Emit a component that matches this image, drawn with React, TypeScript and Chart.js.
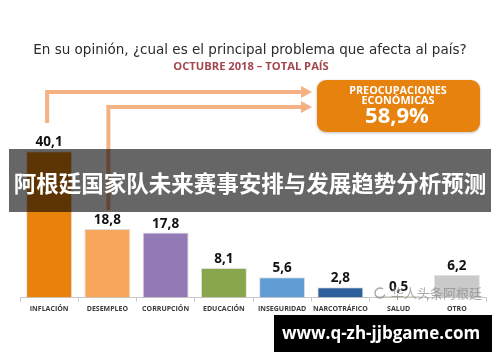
import React, { useEffect, useRef } from "react";
import { Chart, registerables } from "chart.js";

Chart.register(...registerables);

const categories = [
  "INFLACIÓN",
  "DESEMPLEO",
  "CORRUPCIÓN",
  "EDUCACIÓN",
  "INSEGURIDAD",
  "NARCOTRÁFICO",
  "SALUD",
  "OTRO",
];
const values = [40.1, 18.8, 17.8, 8.1, 5.6, 2.8, 0.5, 6.2];
const barColors = [
  "#E9820C",
  "#F7A65C",
  "#937AB5",
  "#8AA64C",
  "#5E9CD3",
  "#2D5F9C",
  "#A9C47F",
  "#CACACA",
];
const titleText = "En su opinión, ¿cual es el principal problema que afecta al país?";
const subtitleText = "OCTUBRE 2018 – TOTAL PAÍS";
const boxLines = ["PREOCUPACIONES", "ECONÓMICAS"];
const boxValue = "58,9%";
const bannerText = "阿根廷国家队未来赛事安排与发展趋势分析预测";
const siteText = "www.q-zh-jjbgame.com";
const watermarkText = "华人头条阿根廷";

const fmt = (v: number) => v.toFixed(1).replace(".", ",");

const decorPlugin = {
  id: "decor",
  afterDraw(chart: any) {
    const ctx = chart.ctx as CanvasRenderingContext2D;
    const meta = chart.getDatasetMeta(0);
    ctx.save();

    // Title
    ctx.fillStyle = "#2b2b2b";
    ctx.textAlign = "center";
    ctx.textBaseline = "middle";
    ctx.font = '13.5px "DejaVu Sans", sans-serif';
    ctx.fillText(titleText, 250, 50);
    ctx.fillStyle = "#A3464E";
    ctx.font = 'bold 11.2px "Open Sans", sans-serif';
    ctx.fillText(subtitleText, 251, 67);

    // Value labels
    ctx.fillStyle = "#111";
    ctx.font = 'bold 13.5px "Open Sans", sans-serif';
    ctx.textBaseline = "alphabetic";
    meta.data.forEach((bar: any, i: number) => {
      ctx.fillText(fmt(values[i]), bar.x, bar.y - 5);
    });

    // Arrows
    const b0 = meta.data[0];
    const b1 = meta.data[1];
    ctx.strokeStyle = "#F4B183";
    ctx.fillStyle = "#F4B183";
    ctx.lineWidth = 4;
    ctx.lineJoin = "miter";
    const arrowEnd = 303;
    const drawArrow = (x: number, y0: number, y1: number) => {
      ctx.beginPath();
      ctx.moveTo(x, y0);
      ctx.lineTo(x, y1);
      ctx.lineTo(arrowEnd, y1);
      ctx.stroke();
      ctx.beginPath();
      ctx.moveTo(arrowEnd - 2, y1 - 6);
      ctx.lineTo(arrowEnd + 9, y1);
      ctx.lineTo(arrowEnd - 2, y1 + 6);
      ctx.closePath();
      ctx.fill();
    };
    drawArrow(b0.x - 2, 123, 92);
    drawArrow(b1.x + 1, 210, 107);

    // Orange box
    ctx.shadowColor = "rgba(0,0,0,0.25)";
    ctx.shadowBlur = 3;
    ctx.shadowOffsetY = 1;
    ctx.fillStyle = "#E8820E";
    ctx.beginPath();
    (ctx as any).roundRect(317, 80, 163, 52, 9);
    ctx.fill();
    ctx.shadowColor = "transparent";
    ctx.fillStyle = "#ffffff";
    ctx.textAlign = "center";
    ctx.textBaseline = "middle";
    ctx.font = 'bold 10.8px "Open Sans", sans-serif';
    ctx.fillText(boxLines[0], 398, 91);
    ctx.fillText(boxLines[1], 398, 101);
    ctx.font = 'bold 22px "Open Sans", sans-serif';
    ctx.fillText(boxValue, 397, 117);

    // Watermark
    ctx.fillStyle = "rgba(140,140,140,0.75)";
    ctx.strokeStyle = "rgba(140,140,140,0.75)";
    ctx.lineWidth = 1.5;
    ctx.beginPath();
    ctx.arc(380, 293, 5, 0.3, Math.PI * 1.7);
    ctx.stroke();
    ctx.font = '13px "Noto Sans CJK SC", sans-serif';
    ctx.textAlign = "left";
    ctx.fillText(watermarkText, 391, 293);

    // Dark banner
    ctx.fillStyle = "rgba(0,0,0,0.6)";
    ctx.fillRect(9, 149, 482, 63);
    ctx.fillStyle = "#ffffff";
    ctx.textAlign = "center";
    ctx.font = 'bold 22.5px "Noto Sans CJK SC", sans-serif';
    ctx.fillText(bannerText, 250, 183);

    // Site box
    ctx.fillStyle = "#000000";
    ctx.fillRect(274, 315, 218, 37);
    ctx.fillStyle = "#ffffff";
    ctx.font = 'bold 17px "Open Sans", sans-serif';
    ctx.fillText(siteText, 381, 334);

    ctx.restore();
  },
};

export default function App() {
  const ref = useRef<HTMLCanvasElement | null>(null);
  useEffect(() => {
    if (!ref.current) return;
    const chart = new Chart(ref.current, {
      type: "bar",
      data: {
        labels: categories,
        datasets: [
          {
            data: values,
            backgroundColor: barColors,
            borderColor: "rgba(0,0,0,0.12)",
            borderWidth: 1,
            barPercentage: 0.79,
            categoryPercentage: 1,
          },
        ],
      },
      options: {
        animation: false,
        responsive: false,
        maintainAspectRatio: false,
        layout: { padding: { left: 20, right: 14, top: 115, bottom: 46 } },
        plugins: {
          legend: { display: false },
          tooltip: { enabled: false },
          title: { display: false },
        },
        scales: {
          x: {
            grid: {
              display: true,
              drawOnChartArea: false,
              drawTicks: true,
              tickLength: 4,
              offset: true,
              color: "#c8c8c8",
            },
            border: { display: true, color: "#c8c8c8" },
            ticks: {
              color: "#3a3a3a",
              font: { family: '"Open Sans", sans-serif', size: 7, weight: "bold" },
              padding: 3,
              maxRotation: 0,
              autoSkip: false,
            },
          },
          y: {
            display: false,
            min: 0,
            max: 50,
          },
        },
      },
      plugins: [decorPlugin],
    });
    return () => chart.destroy();
  }, []);
  return (
    <div style={{ position: "absolute", left: 0, top: 0, width: 500, height: 362, background: "#fff" }}>
      <canvas ref={ref} width={500} height={362} style={{ width: 500, height: 362, display: "block" }} />
    </div>
  );
}
